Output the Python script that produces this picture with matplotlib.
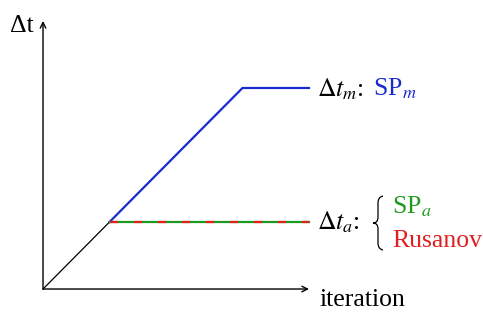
import matplotlib.pyplot as plt
from matplotlib.path import Path
from matplotlib.patches import PathPatch
from matplotlib.transforms import Affine2D

plt.rcParams['font.family'] = ['Liberation Serif', 'DejaVu Serif']
plt.rcParams['mathtext.fontset'] = 'stix'

# data (schematic units)
ramp_x = [0, 1]
ramp_y = [0, 1]
sp_m_x = [1, 3, 4]
sp_m_y = [1, 3, 3]
sp_a_x = [1, 4]
sp_a_y = [1, 1]
axis_len = 4

W, H = 483, 312
fig = plt.figure(figsize=(W / 100, H / 100), dpi=100)
ax = fig.add_axes([0, 0, 1, 1])
ax.set_xlim(-0.647, 6.617)
ax.set_ylim(-0.343, 4.313)
ax.axis('off')

# pixel coords measured from the top-left corner, for the annotations
px = Affine2D().scale(1, -1).translate(0, H) + fig.dpi_scale_trans.inverted() + fig.dpi_scale_trans

# axes with open arrow heads
arrow = dict(arrowstyle='->', color='black', lw=1.0, shrinkA=0, shrinkB=0)
ax.annotate('', xy=(axis_len, 0), xytext=(0, 0), arrowprops=arrow)
ax.annotate('', xy=(0, axis_len), xytext=(0, 0), arrowprops=arrow)

ax.plot(ramp_x, ramp_y, color='black', lw=0.9)
ax.plot(sp_m_x, sp_m_y, color='#1a2ad0', lw=1.6)
ax.plot(sp_a_x, sp_a_y, color='#1f9a1f', lw=1.6)
ax.plot(sp_a_x, sp_a_y, color='#e02020', lw=1.6, dashes=(3.6, 7.2))

fs = 18.5
ax.text(10, 32, 'Δt', fontsize=fs, ha='left', va='baseline', transform=px)
ax.text(319, 306, 'iteration', fontsize=fs, ha='left', va='baseline', transform=px)

ax.text(317, 96, r'$\Delta t_m$:', fontsize=fs, ha='left', va='baseline', transform=px)
ax.text(373, 95, r'SP$_m$', fontsize=fs, ha='left', va='baseline', color='#1a2ad0', transform=px)

ax.text(317, 229, r'$\Delta t_a$:', fontsize=fs, ha='left', va='baseline', transform=px)
ax.text(392, 213, r'SP$_a$', fontsize=fs, ha='left', va='baseline', color='#1f9a1f', transform=px)
ax.text(392, 247, 'Rusanov', fontsize=fs, ha='left', va='baseline', color='#e02020', transform=px)

# thin curly brace
verts = [(383, 196), (378, 197), (378, 203),
         (378, 217),
         (378, 223), (373, 223),
         (378, 223), (378, 229),
         (378, 243),
         (378, 249), (383, 250)]
codes = [Path.MOVETO, Path.CURVE3, Path.CURVE3,
         Path.LINETO,
         Path.CURVE3, Path.CURVE3,
         Path.CURVE3, Path.CURVE3,
         Path.LINETO,
         Path.CURVE3, Path.CURVE3]
ax.add_patch(PathPatch(Path(verts, codes), fill=False, lw=0.9, color='black', transform=px))

fig.savefig('out.png', dpi=100)
